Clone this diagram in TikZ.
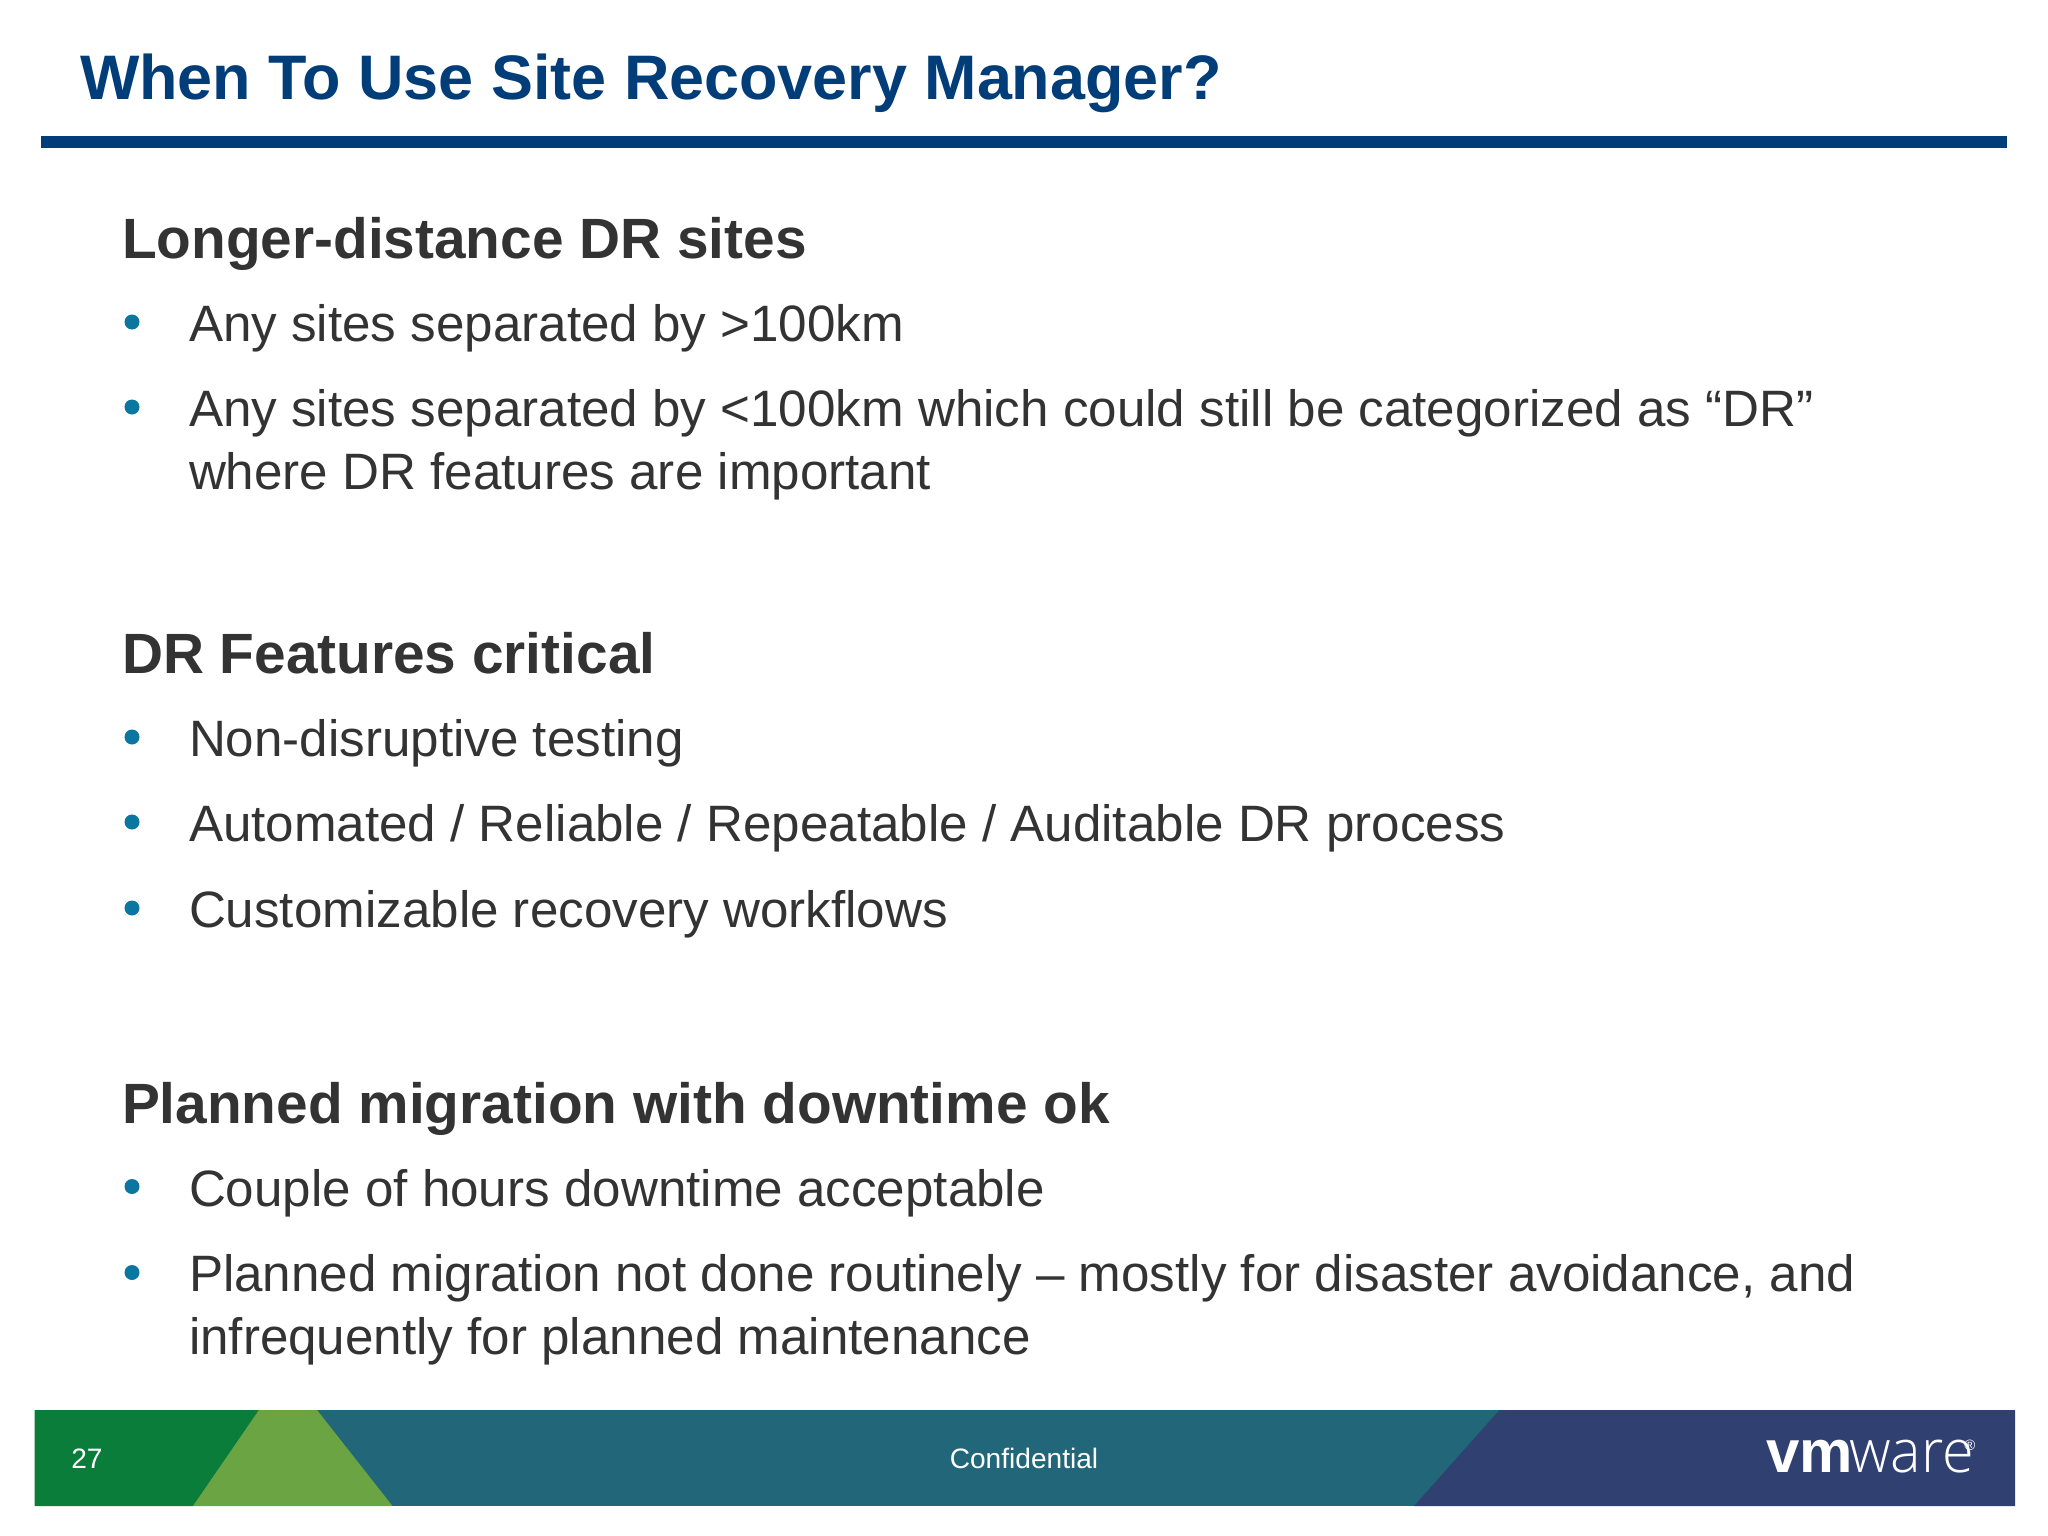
\documentclass[tikz,border=0pt]{standalone}
\usepackage{fontspec}
\setmainfont{Liberation Sans}
\newfontfamily\logolight{Open Sans Light}
\usepackage{tikz}

\definecolor{titleblue}{HTML}{003D79}
\definecolor{bodygrey}{HTML}{333333}
\definecolor{bulletblue}{HTML}{0B76A0}
\definecolor{bargreen}{HTML}{0B7D3B}
\definecolor{barlime}{HTML}{6BA543}
\definecolor{barteal}{HTML}{226779}
\definecolor{barnavy}{HTML}{2F4071}

\tikzset{
    slidetext/.style = {anchor = base west, inner sep = 0, outer sep = 0, align = left},
    heading/.style = {slidetext, text = bodygrey, font = \fontsize{56.8}{62}\selectfont\bfseries},
    item/.style = {slidetext, text = bodygrey, font = \fontsize{51.15}{62.7}\selectfont},
    barlabel/.style = {anchor = base, inner sep = 0, text = white, font = \fontsize{28.1}{30}\selectfont},
    logotext/.style = {slidetext, text = white, font = \fontsize{60}{64}\selectfont, transform shape}
}

\begin{document}
\begin{tikzpicture}[x = 1pt, y = -1pt]
    \useasboundingbox (0, 0) rectangle (2048, 1536);
    \fill [white] (0, 0) rectangle (2048, 1536);

    \node [slidetext, text = titleblue, font = \fontsize{62.9}{64}\selectfont\bfseries] (title) at (80, 99.5) {When To Use Site Recovery Manager?};
    \fill [titleblue] (41, 136) rectangle (2006.5, 148);

    \node [heading] (distance) at (122, 258) {Longer-distance DR sites};
    \node [item] (far) at (189, 341) {Any sites separated by >100km};
    \node [item] (near) at (189, 426) {Any sites separated by <100km which could still be categorized as “DR”};
    \node [item] (nearmore) at (189, 489) {where DR features are important};

    \node [heading] (features) at (122, 673) {DR Features critical};
    \node [item] (testing) at (189, 756) {Non-disruptive testing};
    \node [item] (process) at (189, 841) {Automated / Reliable / Repeatable / Auditable DR process};
    \node [item] (workflows) at (189, 927) {Customizable recovery workflows};

    \node [heading] (migration) at (122, 1123) {Planned migration with downtime ok};
    \node [item] (hours) at (189, 1206) {Couple of hours downtime acceptable};
    \node [item] (routine) at (189, 1291.5) {Planned migration not done routinely – mostly for disaster avoidance, and};
    \node [item] (routinemore) at (189, 1354) {infrequently for planned maintenance};

    \foreach \y in {342, 427, 757, 842, 928, 1206.5, 1292.5}
        \fill [bulletblue] (132, \y - 20) circle (7.5);

    \fill [barteal] (34.6, 1410) rectangle (2015, 1506);
    \fill [bargreen] (34.6, 1410) -- (259, 1410) -- (193, 1506) -- (34.6, 1506) -- cycle;
    \fill [barlime] (259, 1410) -- (317, 1410) -- (392.5, 1506) -- (193, 1506) -- cycle;
    \fill [barnavy] (1499.5, 1410) -- (2015, 1410) -- (2015, 1506) -- (1414, 1506) -- cycle;

    \node [barlabel] (page) at (87, 1468) {27};
    \node [barlabel] (confidential) at (1024, 1468) {Confidential};
    \node [logotext, xscale = 1.0] (logovm) at (1766, 1472) {\bfseries vm};
    \node [logotext, xscale = 0.96] (logoware) at (1849, 1472) {\logolight ware};
    \node [text = white, inner sep = 0, font = \fontsize{15}{15}\selectfont] (logoreg) at (1970, 1445) {®};
\end{tikzpicture}
\end{document}
